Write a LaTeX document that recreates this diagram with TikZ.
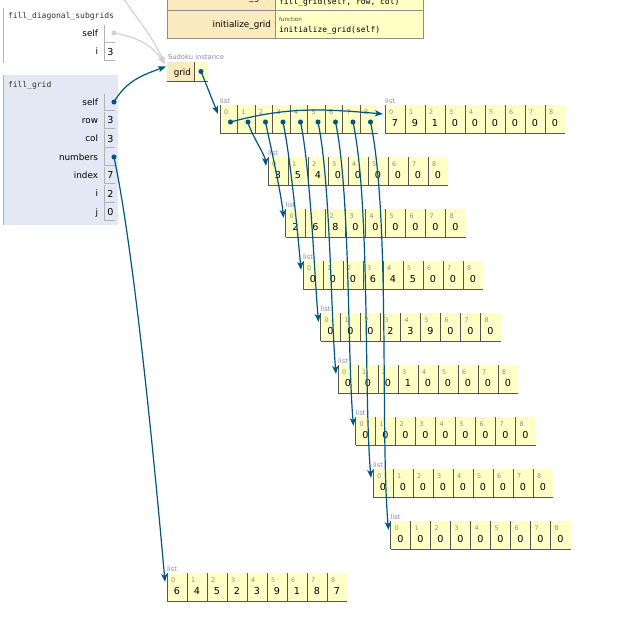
\documentclass[tikz,border=0pt]{standalone}
\usepackage{fontspec}
\setmainfont{DejaVu Sans}
\newfontfamily\codefont{DejaVu Sans Mono}
\usetikzlibrary{arrows.meta}
\definecolor{cellbg}{HTML}{FFFFC6}
\definecolor{keybg}{HTML}{FAEBBF}
\definecolor{framebg}{HTML}{E2E8F4}
\definecolor{ptrblue}{HTML}{005583}
\definecolor{oldgray}{HTML}{D2D2D2}
\definecolor{typegray}{HTML}{8A88A8}

\begin{document}
\begin{tikzpicture}[x=0.75pt, y=-0.75pt,
  >={Stealth[length=6pt, width=4.5pt, inset=1.5pt]},
  every node/.style={inner sep=0pt, outer sep=0pt},
  varname/.style={font=\fontsize{6.6pt}{7pt}\selectfont, anchor=base east},
  varval/.style={font=\fontsize{7.2pt}{8pt}\selectfont, anchor=base},
  idx/.style={font=\fontsize{4.8pt}{5pt}\selectfont, text=black!45, anchor=base west},
  typelbl/.style={font=\fontsize{5.1pt}{6pt}\selectfont, text=typegray, anchor=base west},
  fnlbl/.style={font=\fontsize{4.2pt}{5pt}\selectfont, text=black!70, anchor=base west},
  codetxt/.style={font=\codefont\fontsize{6pt}{7pt}\selectfont, anchor=base west},
  frametitle/.style={font=\codefont\fontsize{6pt}{7pt}\selectfont, text=black!80, anchor=base west},
  cellline/.style={draw=black!67, line width=0.75pt},
  varline/.style={draw=black!30, line width=0.75pt},
  tblline/.style={draw=black!45, line width=0.75pt},
  framebar/.style={draw=black!30, line width=0.75pt},
  ptr/.style={->, ptrblue, line width=0.9pt},
  oldptr/.style={->, oldgray, line width=0.9pt},
]
  \useasboundingbox (0,0) rectangle (622,640);
  \clip (0,0) rectangle (622,640);
  \fill[white] (0,0) rectangle (622,640);

  % class table, cut off at the top
  \fill[keybg] (167,-20) rectangle (275,38);
  \fill[cellbg] (275,-20) rectangle (423,38);
  \draw[tblline] (167,-20) rectangle (423,38);
  \draw[tblline] (167,10) -- (423,10);
  \draw[tblline] (275,-20) -- (275,38);
  \node[varname] (key-fill) at (271,0.5) {fill\_grid};
  \node[fnlbl] (fn-fill) at (279,-8) {function};
  \node[codetxt] (code-fill) at (279,4) {fill\_grid(self, row, col)};
  \node[varname] (key-init) at (271,27.2) {initialize\_grid};
  \node[fnlbl] (fn-init) at (279,21) {function};
  \node[codetxt] (code-init) at (279,32.4) {initialize\_grid(self)};

  % frame fill_diagonal_subgrids
  \draw[framebar] (3,8) -- (3,63);
  \node[frametitle] (f1-title) at (8,18) {fill\_diagonal\_subgrids};
  \node[varname] (f1-self) at (98,36.5) {self};
  \draw[varline] (104,25) |- (115,42);
  \node[varname] (f1-i) at (98,54.5) {i};
  \draw[varline] (104,43) |- (115,60);
  \node[varval] (f1-iv) at (110.5,55) {3};
  \coordinate (f1-selfdot) at (114,33);

  % frame fill_grid
  \fill[framebg] (3,75) rectangle (118,225);
  \draw[framebar] (3,75) -- (3,225);
  \node[frametitle] (f2-title) at (8,87) {fill\_grid};
  \foreach \vname/\vval [count=\m from 0] in {self/, row/3, col/3, numbers/, index/7, i/2, j/0} {
    \pgfmathsetmacro{\ry}{102+18.3*\m}
    \node[varname] (f2-\vname) at (98,\ry+3.2) {\vname};
    \draw[varline] (104,\ry-8.5) |- (115,\ry+8.5);
    \node[varval] (f2-\vname-v) at (110.5,\ry+3.5) {\vval};
  }
  \coordinate (f2-selfdot) at (114,102);
  \coordinate (f2-numdot) at (114,157);

  % Sudoku instance
  \node[typelbl] (inst-type) at (168,59.5) {Sudoku instance};
  \fill[keybg] (167,62) rectangle (194,81);
  \fill[cellbg] (194,62) rectangle (208,81);
  \draw[cellline] (167,81) -- (208,81);
  \draw[cellline] (194,62) -- (194,81);
  \node[varname] (inst-grid) at (191,75) {grid};
  \coordinate (grid-dot) at (201,71.5);
  \coordinate (grid-in) at (166,66.5);
  \coordinate (grid-in-old) at (165,64);

  % outer list of rows
  \node[typelbl] (outer-type) at (220,103) {list};
  \foreach \i in {0,...,8} {
    \fill[cellbg] (220+17.5*\i,105) rectangle ++(17.5,28);
    \draw[cellline] (220+17.5*\i,105) -- ++(0,28);
    \node[idx] (outer-i\i) at (224+17.5*\i,114) {\i};
    \coordinate (outer-dot\i) at (230.5+17.5*\i,122);
  }
  \draw[cellline] (220,133) -- (377.5,133);
  \coordinate (outer-in) at (218,114);

  % the row lists and numbers
  \foreach \k/\lx/\ly/\vals in {
      0/385/105/{7,9,1,0,0,0,0,0,0},
      1/268/157/{3,5,4,0,0,0,0,0,0},
      2/285.5/209/{2,6,8,0,0,0,0,0,0},
      3/303/261/{0,0,0,6,4,5,0,0,0},
      4/320.5/313/{0,0,0,2,3,9,0,0,0},
      5/338/365/{0,0,0,1,0,0,0,0,0},
      6/355.5/417/{0,0,0,0,0,0,0,0,0},
      7/373/469/{0,0,0,0,0,0,0,0,0},
      8/390.5/521/{0,0,0,0,0,0,0,0,0},
      nums/167/573/{6,4,5,2,3,9,1,8,7}} {
    \node[typelbl] (row\k-type) at (\lx,\ly-2) {list};
    \foreach \v [count=\i from 0] in \vals {
      \fill[cellbg] (\lx+20*\i,\ly) rectangle ++(20,28);
      \draw[cellline] (\lx+20*\i,\ly) -- ++(0,28);
      \node[idx] (row\k-i\i) at (\lx+20*\i+4,\ly+9) {\i};
      \node[varval] (row\k-v\i) at (\lx+20*\i+10,\ly+21.2) {\v};
    }
    \draw[cellline] (\lx,\ly+28) -- ++(180,0);
    \coordinate (row\k-in) at (\lx-2,\ly+9);
  }

  % pointers
  \coordinate (prev-frame) at (112,-20);
  \draw[oldptr] (prev-frame) to[out=-60, in=115] (grid-in-old);
  \draw[oldptr] (f1-selfdot) to[out=-10, in=125] (grid-in-old);
  \fill[oldgray] (f1-selfdot) circle (1.9pt);
  \draw[ptr] (f2-selfdot) to[out=60, in=200] (grid-in);
  \draw[ptr] (f2-numdot) to[out=-78, in=95, looseness=0.6] (rownums-in);
  \draw[ptr] (grid-dot) to[out=-68, in=112] (outer-in);
  \draw[ptr] (outer-dot0) to[out=15, in=175] (row0-in);
  \foreach \k in {1,...,8}
    \draw[ptr] (outer-dot\k) to[out=-78, in=95, looseness=0.6] (row\k-in);
  \foreach \d in {f2-selfdot, f2-numdot, grid-dot, outer-dot0, outer-dot1, outer-dot2, outer-dot3, outer-dot4, outer-dot5, outer-dot6, outer-dot7, outer-dot8}
    \fill[ptrblue] (\d) circle (1.9pt);
\end{tikzpicture}
\end{document}
